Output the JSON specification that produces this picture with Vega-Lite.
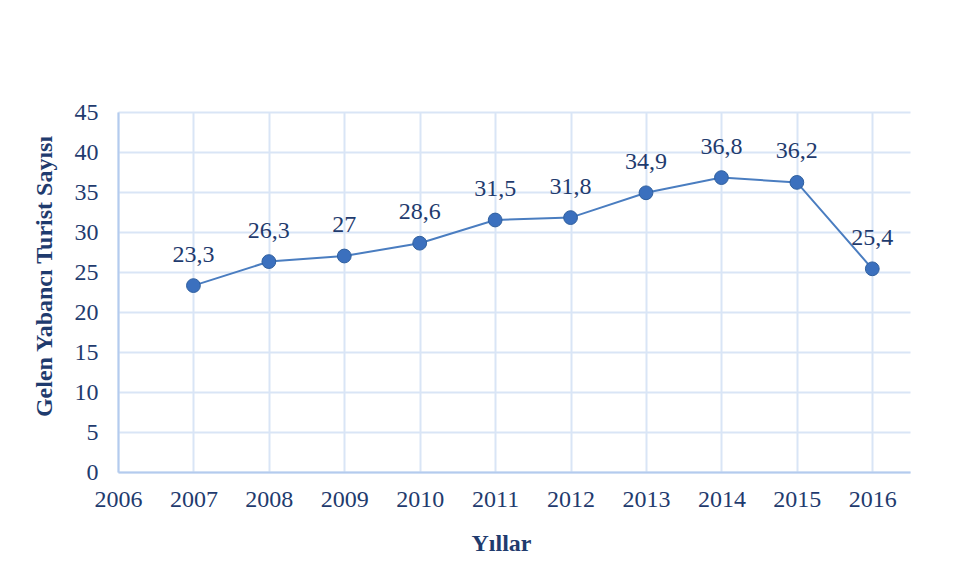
{
  "$schema": "https://vega.github.io/schema/vega-lite/v6.json",
  "width": 792,
  "height": 360,
  "autosize": {"type": "none"},
  "padding": {"left": 118, "top": 112, "right": 57, "bottom": 113},
  "background": "white",
  "config": {
    "locale": {"number": {"decimal": ",", "thousands": ".", "grouping": [3], "currency": ["", " TL"]}},
    "view": {"stroke": null},
    "font": "Liberation Serif"
  },
  "data": {
    "values": [
      {"Yil": 2007, "Sayi": 23.3},
      {"Yil": 2008, "Sayi": 26.3},
      {"Yil": 2009, "Sayi": 27},
      {"Yil": 2010, "Sayi": 28.6},
      {"Yil": 2011, "Sayi": 31.5},
      {"Yil": 2012, "Sayi": 31.8},
      {"Yil": 2013, "Sayi": 34.9},
      {"Yil": 2014, "Sayi": 36.8},
      {"Yil": 2015, "Sayi": 36.2},
      {"Yil": 2016, "Sayi": 25.4}
    ]
  },
  "encoding": {
    "x": {
      "field": "Yil",
      "type": "quantitative",
      "scale": {"domain": [2006, 2016.5], "nice": false, "zero": false},
      "axis": {
        "title": "Yıllar",
        "values": [2006, 2007, 2008, 2009, 2010, 2011, 2012, 2013, 2014, 2015, 2016],
        "format": "d",
        "labelFont": "Liberation Serif",
        "labelFontSize": 24,
        "labelColor": "#1f3b6e",
        "labelPadding": 15,
        "labelFlush": false,
        "labelOverlap": false,
        "ticks": false,
        "domainColor": "#b4cbee",
        "domainWidth": 2,
        "grid": true,
        "gridColor": "#d9e5f6",
        "gridWidth": 2,
        "titleFont": "Liberation Serif",
        "titleFontSize": 24,
        "titleFontWeight": "bold",
        "titleColor": "#1f3b6e",
        "titlePadding": 20,
        "titleX": 383
      }
    },
    "y": {
      "field": "Sayi",
      "type": "quantitative",
      "scale": {"domain": [0, 45], "nice": false},
      "axis": {
        "title": "Gelen Yabancı Turist Sayısı",
        "values": [0, 5, 10, 15, 20, 25, 30, 35, 40, 45],
        "labelFont": "Liberation Serif",
        "labelFontSize": 24,
        "labelColor": "#1f3b6e",
        "labelPadding": 20,
        "labelFlush": false,
        "labelOverlap": false,
        "ticks": false,
        "domainColor": "#b4cbee",
        "domainWidth": 2,
        "grid": true,
        "gridColor": "#d9e5f6",
        "gridWidth": 2,
        "titleFont": "Liberation Serif",
        "titleFontSize": 24,
        "titleFontWeight": "bold",
        "titleColor": "#1f3b6e",
        "titlePadding": 18,
        "titleY": 164
      }
    }
  },
  "layer": [
    {
      "mark": {"type": "line", "color": "#4a7dc0", "strokeWidth": 2}
    },
    {
      "mark": {"type": "point", "filled": true, "shape": "circle", "size": 190, "color": "#3b70be", "opacity": 1, "stroke": "#2f5f9e", "strokeWidth": 1}
    },
    {
      "mark": {"type": "text", "baseline": "alphabetic", "dy": -24, "fontSize": 24, "font": "Liberation Serif", "color": "#1f3b6e"},
      "encoding": {
        "text": {"field": "Sayi", "type": "quantitative", "format": ".1~f"}
      }
    }
  ]
}
